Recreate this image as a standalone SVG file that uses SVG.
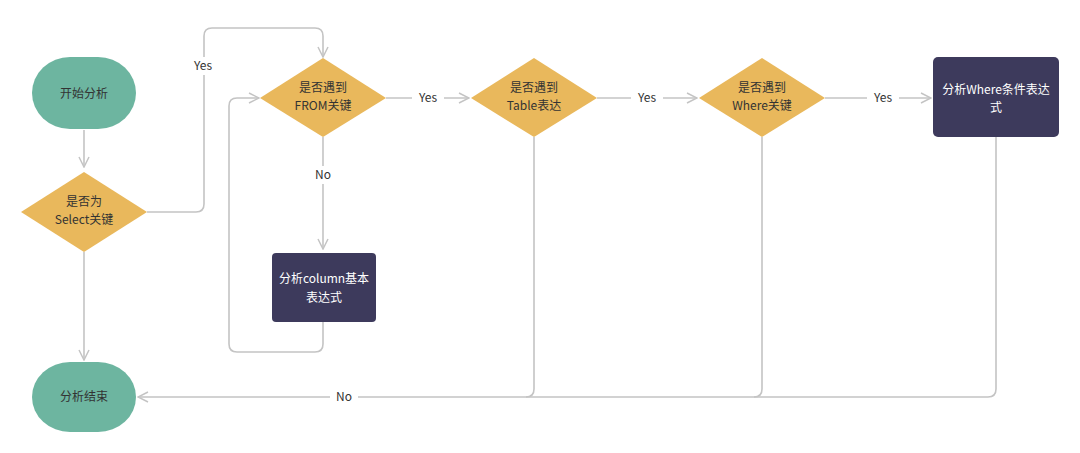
<svg xmlns="http://www.w3.org/2000/svg" width="1080" height="453" viewBox="0 0 1080 453">
<defs>
<marker id="arr" viewBox="0 0 12 12" refX="11" refY="6" markerWidth="12" markerHeight="12" markerUnits="userSpaceOnUse" orient="auto">
<path d="M1,1 L11,6 L1,11" fill="none" stroke="#c4c4c4" stroke-width="1.5"/>
</marker>
<style>
.ln{fill:none;stroke:#c4c4c4;stroke-width:1.6}
.t{font-family:"Noto Sans CJK SC","Noto Sans",sans-serif;font-size:12px;text-anchor:middle;fill:#333}
.w{fill:#fff}
.lbl{font-family:"Noto Sans CJK SC","Noto Sans",sans-serif;font-size:12px;text-anchor:middle;fill:#333}
.term{fill:#6db5a0}
.dec{fill:#e9b85c}
.proc{fill:#3d3a5c}
</style>
</defs>
<rect width="1080" height="453" fill="#fff"/>
<g id="connectors">
<path class="ln" d="M84,130 V167" marker-end="url(#arr)"/>
<path class="ln" d="M84,252 V360" marker-end="url(#arr)"/>
<path class="ln" d="M147,212 H196 Q204,212 204,204 V36 Q204,28 212,28 H315 Q323,28 323,36 V57" marker-end="url(#arr)"/>
<path class="ln" d="M323,137 V249" marker-end="url(#arr)"/>
<path class="ln" d="M323,322 V344 Q323,352 315,352 H237 Q229,352 229,344 V106 Q229,98 237,98 H259" marker-end="url(#arr)"/>
<path class="ln" d="M386,98 H469" marker-end="url(#arr)"/>
<path class="ln" d="M597,98 H697" marker-end="url(#arr)"/>
<path class="ln" d="M825,98 H931" marker-end="url(#arr)"/>
<path class="ln" d="M534,137 V389 Q534,397 526,397"/>
<path class="ln" d="M762,137 V389 Q762,397 754,397"/>
<path class="ln" d="M996,137 V389 Q996,397 988,397 H138" marker-end="url(#arr)"/>
<rect x="188" y="57" width="30" height="18" fill="#fff"/>
<text class="lbl" x="203" y="70">Yes</text>
<rect x="310" y="166" width="26" height="18" fill="#fff"/>
<text class="lbl" x="323" y="179">No</text>
<rect x="412" y="89" width="32" height="18" fill="#fff"/>
<text class="lbl" x="428" y="102">Yes</text>
<rect x="631" y="89" width="32" height="18" fill="#fff"/>
<text class="lbl" x="647" y="102">Yes</text>
<rect x="867" y="89" width="32" height="18" fill="#fff"/>
<text class="lbl" x="883" y="102">Yes</text>
<rect x="330" y="388" width="28" height="18" fill="#fff"/>
<text class="lbl" x="344" y="401">No</text>
</g>
<g id="start">
<rect class="term" x="32" y="57" width="104" height="72" rx="38" ry="36"/>
<text class="t" x="84" y="98">开始分析</text>
</g>
<g id="isSelect">
<polygon class="dec" points="84,172 147,212 84,252 21,212"/>
<text class="t" x="84" y="206">是否为</text>
<text class="t" x="84" y="224">Select关键</text>
</g>
<g id="isFrom">
<polygon class="dec" points="323,58 386,98 323,137 260,98"/>
<text class="t" x="323" y="92">是否遇到</text>
<text class="t" x="323" y="110">FROM关键</text>
</g>
<g id="column">
<rect class="proc" x="272" y="253" width="104" height="69" rx="4"/>
<text class="t w" x="324" y="283">分析column基本</text>
<text class="t w" x="324" y="302">表达式</text>
</g>
<g id="isTable">
<polygon class="dec" points="534,58 597,98 534,137 471,98"/>
<text class="t" x="534" y="92">是否遇到</text>
<text class="t" x="534" y="110">Table表达</text>
</g>
<g id="isWhere">
<polygon class="dec" points="762,58 825,98 762,137 699,98"/>
<text class="t" x="762" y="92">是否遇到</text>
<text class="t" x="762" y="110">Where关键</text>
</g>
<g id="where">
<rect class="proc" x="933" y="57" width="126" height="80" rx="5"/>
<text class="t w" x="996" y="94">分析Where条件表达</text>
<text class="t w" x="996" y="112">式</text>
</g>
<g id="end">
<rect class="term" x="32" y="362" width="104" height="70" rx="38" ry="35"/>
<text class="t" x="84" y="401">分析结束</text>
</g>
</svg>
